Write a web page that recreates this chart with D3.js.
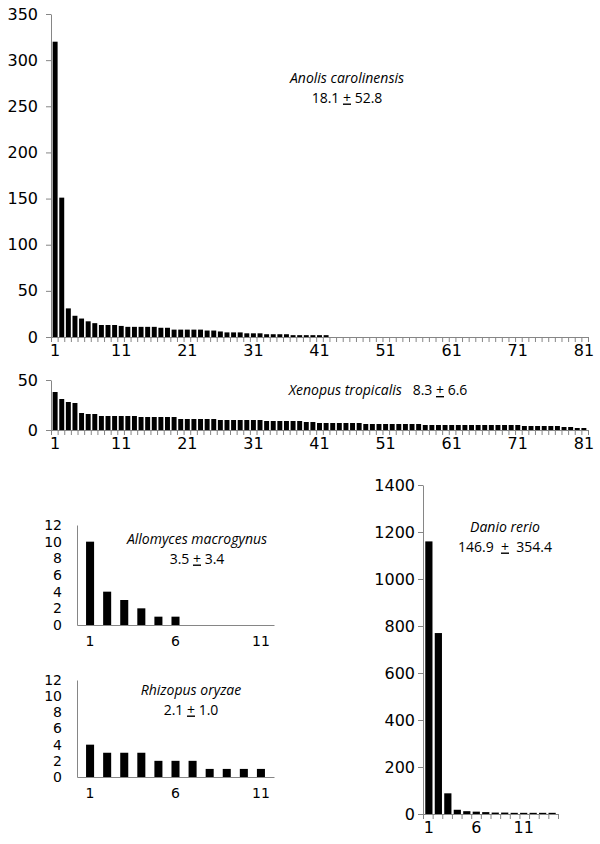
<!DOCTYPE html>
<html>
<head>
<meta charset="utf-8">
<script src="https://cdn.jsdelivr.net/npm/d3@7"></script>
<style>
  body { margin: 0; background: #fff; }
  svg { display: block; }
  .tick text { font-family: "DejaVu Sans", Verdana, sans-serif; fill: #000; }
  .note { font-family: "Open Sans", sans-serif; fill: #000; }
</style>
</head>
<body>
<div id="chart"></div>
<script>
// counts per rank
const anolisCounts = [320, 151, 31, 23, 20, 17, 15, 13, 13, 13, 12, 11, 11, 11, 11, 11, 10, 10, 8, 8,
  8, 8, 8, 7, 7, 6, 5, 5, 5, 4, 4, 4, 3, 3, 3, 3, 2, 2, 2, 2,
  2, 2, 0, 0, 0, 0, 0, 0, 0, 0, 0, 0, 0, 0, 0, 0, 0, 0, 0, 0,
  0, 0, 0, 0, 0, 0, 0, 0, 0, 0, 0, 0, 0, 0, 0, 0, 0, 0, 0, 0, 0];
const xenopusCounts = [38, 31, 28, 27, 17, 16, 16, 14, 14, 14, 14, 14, 14, 13, 13, 13, 13, 13, 13, 11,
  11, 11, 11, 11, 11, 10, 10, 10, 10, 10, 10, 10, 9, 9, 9, 9, 9, 9, 8, 8,
  7, 7, 7, 7, 7, 7, 7, 6, 6, 6, 6, 6, 6, 6, 6, 6, 5, 5, 5, 5,
  5, 5, 5, 5, 5, 5, 5, 5, 5, 5, 5, 4, 4, 4, 4, 4, 4, 3, 3, 2, 2];
const allomycesCounts = [10, 4, 3, 2, 1, 1, 0, 0, 0, 0, 0];
const rhizopusCounts = [4, 3, 3, 3, 2, 2, 2, 1, 1, 1, 1];
const danioCounts = [1160, 770, 88, 18, 12, 10, 8, 6, 6, 5, 5, 5, 5, 5];

const longXTicks = [1, 11, 21, 31, 41, 51, 61, 71, 81];
const shortXTicks = [1, 6, 11];
const anolisYTicks = [0, 50, 100, 150, 200, 250, 300, 350];
const xenopusYTicks = [0, 50];
const smallYTicks = [0, 2, 4, 6, 8, 10, 12];
const danioYTicks = [0, 200, 400, 600, 800, 1000, 1200, 1400];

const axisColor = "#868686";
const noteSize = 14;
const noteLeading = 19.5;

const svg = d3.select("#chart").append("svg")
    .attr("width", 600)
    .attr("height", 844);

function drawPanel(p) {
    const n = p.counts.length;
    const cats = d3.range(1, n + 1);

    const x = d3.scaleBand().domain(cats).range([p.left, p.right]).padding(p.pad);
    const xEdge = d3.scaleLinear().domain([0, n]).range([p.left, p.right]);
    const y = d3.scaleLinear().domain([0, p.yMax]).range([p.bottom, p.top]);

    const g = svg.append("g");

    // bars
    g.selectAll("rect")
        .data(p.counts)
        .enter()
        .append("rect")
        .attr("x", (d, i) => x(i + 1))
        .attr("width", x.bandwidth())
        .attr("y", d => y(d))
        .attr("height", d => p.bottom - y(d))
        .attr("fill", "#000");

    // y axis
    const yAx = g.append("g")
        .attr("transform", "translate(" + p.left + ",0)")
        .call(d3.axisLeft(y).tickValues(p.yTicks).tickFormat(d3.format("d"))
            .tickSize(p.yTickLen).tickPadding(p.yPad).tickSizeOuter(0));
    yAx.selectAll("text").attr("font-size", p.fs);

    // x axis line with a tick between every pair of bars
    g.append("g")
        .attr("transform", "translate(0," + p.bottom + ")")
        .call(d3.axisBottom(xEdge).tickValues(d3.range(n + 1)).tickFormat("").tickSize(p.xTickLen).tickSizeOuter(0));

    // x labels under the bars
    const xLab = g.append("g")
        .attr("transform", "translate(0," + p.bottom + ")")
        .call(d3.axisBottom(x).tickValues(p.xTicks).tickSize(0).tickPadding(p.xPad));
    xLab.select(".domain").remove();
    xLab.selectAll("text").attr("font-size", p.fs);

    g.selectAll(".domain, .tick line").attr("stroke", axisColor);

    // species name and mean +/- sd
    p.lines.forEach((line, li) => {
        const t = g.append("text")
            .attr("class", "note")
            .attr("x", p.noteX)
            .attr("y", p.noteY + li * noteLeading)
            .attr("text-anchor", "middle")
            .attr("font-size", noteSize)
            .attr("xml:space", "preserve");
        line.forEach(pt => {
            const s = t.append("tspan").text(pt.t);
            if (pt.italic) s.attr("font-style", "italic");
            if (pt.under) s.style("text-decoration", "underline");
        });
    });
}

drawPanel({
    counts: anolisCounts, yMax: 350, yTicks: anolisYTicks, xTicks: longXTicks,
    left: 51, right: 588, top: 14, bottom: 337, pad: 0.25,
    yTickLen: 5, xTickLen: 5, yPad: 8, xPad: 8, fs: 16,
    noteX: 347, noteY: 83,
    lines: [
        [{ t: "Anolis carolinensis", italic: true }],
        [{ t: "18.1 " }, { t: "+", under: true }, { t: " 52.8" }]
    ]
});

drawPanel({
    counts: xenopusCounts, yMax: 50, yTicks: xenopusYTicks, xTicks: longXTicks,
    left: 51, right: 588, top: 380, bottom: 430, pad: 0.25,
    yTickLen: 5, xTickLen: 5, yPad: 8, xPad: 8, fs: 16,
    noteX: 378, noteY: 395,
    lines: [
        [{ t: "Xenopus tropicalis", italic: true }, { t: "   8.3 " }, { t: "+", under: true }, { t: " 6.6" }]
    ]
});

drawPanel({
    counts: allomycesCounts, yMax: 12, yTicks: smallYTicks, xTicks: shortXTicks,
    left: 77, right: 274, top: 525, bottom: 625, pad: 0.53,
    yTickLen: 0, xTickLen: 0, yPad: 15, xPad: 11, fs: 14,
    noteX: 197, noteY: 544,
    lines: [
        [{ t: "Allomyces macrogynus", italic: true }],
        [{ t: "3.5 " }, { t: "+", under: true }, { t: " 3.4" }]
    ]
});

drawPanel({
    counts: rhizopusCounts, yMax: 12, yTicks: smallYTicks, xTicks: shortXTicks,
    left: 77, right: 274, top: 680, bottom: 777, pad: 0.53,
    yTickLen: 0, xTickLen: 0, yPad: 15, xPad: 11, fs: 14,
    noteX: 191, noteY: 695,
    lines: [
        [{ t: "Rhizopus oryzae", italic: true }],
        [{ t: "2.1 " }, { t: "+", under: true }, { t: " 1.0" }]
    ]
});

drawPanel({
    counts: danioCounts, yMax: 1400, yTicks: danioYTicks, xTicks: shortXTicks,
    left: 423, right: 558, top: 485, bottom: 814, pad: 0.24,
    yTickLen: 5, xTickLen: 5, yPad: 3, xPad: 8, fs: 16,
    noteX: 505, noteY: 532,
    lines: [
        [{ t: "Danio rerio", italic: true }],
        [{ t: "146.9  " }, { t: "+", under: true }, { t: "  354.4" }]
    ]
});
</script>
</body>
</html>
